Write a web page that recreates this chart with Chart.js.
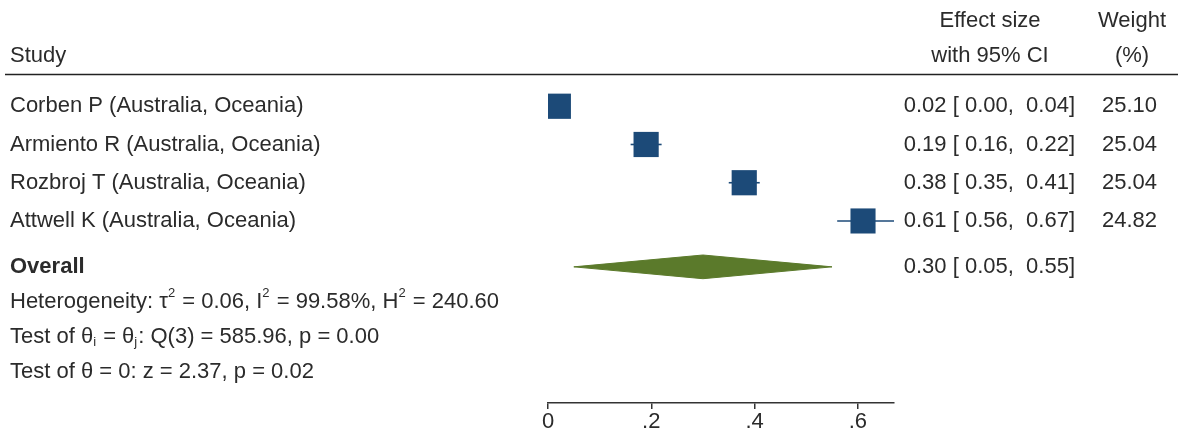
<!DOCTYPE html>
<html>
<head>
<meta charset="utf-8">
<script src="https://cdn.jsdelivr.net/npm/chart.js@4.4.1/dist/chart.umd.min.js"></script>
<style>
  html, body { margin: 0; padding: 0; background: #fff; }
  #wrap { width: 1178px; height: 434px; position: relative; }
</style>
</head>
<body>
<div id="wrap"><canvas id="myChart" width="1178" height="434"></canvas></div>
<script>
// study data
const studies = ['Corben P (Australia, Oceania)', 'Armiento R (Australia, Oceania)', 'Rozbroj T (Australia, Oceania)', 'Attwell K (Australia, Oceania)'];
const effects = [0.02, 0.19, 0.38, 0.61];
const lower = [0.00, 0.16, 0.35, 0.56];
const upper = [0.04, 0.22, 0.41, 0.67];
const weights = [25.10, 25.04, 25.04, 24.82];
const rows = [1, 2, 3, 4];

// overall estimate
const overall = {label: 'Overall', est: 0.30, lo: 0.05, hi: 0.55, row: 5.2};

const xTicks = [0, 0.2, 0.4, 0.6];
const statLines = [
  [['Heterogeneity: τ'], ['2', 'sup'], [' = 0.06, I'], ['2', 'sup'], [' = 99.58%, H'], ['2', 'sup'], [' = 240.60']],
  [['Test of θ'], ['i', 'sub'], [' = θ'], ['j', 'sub'], [': Q(3) = 585.96, p = 0.00']],
  [['Test of θ = 0: z = 2.37, p = 0.02']]
];
const statRows = [6.12, 7.03, 7.95];

const BLUE = '#1c4a78';
const GREEN = '#5b7a2b';
const FONT = '"Liberation Sans", Arial, Helvetica, sans-serif';
const SIZE = 22;
const TEXT = '#2b2b2b';

const fmt = v => v.toFixed(2);

// CI lines, one dataset per study
const ciSets = rows.map((r, i) => ({
  type: 'line',
  data: [{x: lower[i], y: r}, {x: upper[i], y: r}],
  borderColor: BLUE,
  borderWidth: 1.6,
  pointRadius: 0,
  order: 3
}));

const boxes = {
  type: 'scatter',
  data: rows.map((r, i) => ({x: effects[i], y: r})),
  pointStyle: 'rect',
  pointRadius: weights.map(w => 17.8 * Math.sqrt(w / 25)),
  backgroundColor: BLUE,
  borderColor: BLUE,
  borderWidth: 0,
  order: 1
};

const dh = 0.31; // diamond half height in row units
const diamondTop = {
  type: 'line',
  data: [{x: overall.lo, y: overall.row}, {x: overall.est, y: overall.row - dh}, {x: overall.hi, y: overall.row}],
  borderColor: GREEN, borderWidth: 1, pointRadius: 0, tension: 0,
  backgroundColor: GREEN,
  fill: '+1',
  order: 2
};
const diamondBottom = {
  type: 'line',
  data: [{x: overall.lo, y: overall.row}, {x: overall.est, y: overall.row + dh}, {x: overall.hi, y: overall.row}],
  borderColor: GREEN, borderWidth: 1, pointRadius: 0, tension: 0,
  fill: false,
  order: 2
};

function richText(ctx, parts, x, y) {
  let cx = x;
  parts.forEach(([t, kind]) => {
    let dy = 0;
    if (kind === 'sup') { ctx.font = '13px ' + FONT; dy = -9; }
    else if (kind === 'sub') { ctx.font = '13px ' + FONT; dy = 6; }
    else ctx.font = SIZE + 'px ' + FONT;
    ctx.fillText(t, cx, y + dy);
    cx += ctx.measureText(t).width + (kind ? 1 : 0);
  });
}

const tablePlugin = {
  id: 'table',
  afterDraw(chart) {
    const ctx = chart.ctx;
    const ys = chart.scales.y;
    ctx.save();
    ctx.fillStyle = TEXT;
    ctx.textBaseline = 'middle';

    // header
    ctx.font = SIZE + 'px ' + FONT;
    ctx.textAlign = 'left';
    ctx.fillText('Study', 10, 56);
    ctx.textAlign = 'center';
    ctx.fillText('Effect size', 990, 21);
    ctx.fillText('with 95% CI', 990, 56);
    ctx.fillText('Weight', 1132, 21);
    ctx.fillText('(%)', 1132, 56);
    ctx.strokeStyle = '#222';
    ctx.lineWidth = 1.6;
    ctx.beginPath();
    ctx.moveTo(5, 74.5);
    ctx.lineTo(1178, 74.5);
    ctx.stroke();

    // study rows
    rows.forEach((r, i) => {
      const y = ys.getPixelForValue(r);
      ctx.textAlign = 'left';
      ctx.fillText(studies[i], 10, y);
      ctx.textAlign = 'right';
      ctx.fillText(fmt(effects[i]) + ' [ ' + fmt(lower[i]) + ',  ' + fmt(upper[i]) + ']', 1075, y);
      ctx.fillText(fmt(weights[i]), 1157, y);
    });

    // overall
    const oy = ys.getPixelForValue(overall.row);
    ctx.textAlign = 'left';
    ctx.font = 'bold ' + SIZE + 'px ' + FONT;
    ctx.fillText(overall.label, 10, oy);
    ctx.font = SIZE + 'px ' + FONT;
    ctx.textAlign = 'right';
    ctx.fillText(fmt(overall.est) + ' [ ' + fmt(overall.lo) + ',  ' + fmt(overall.hi) + ']', 1075, oy);

    // heterogeneity stats
    ctx.textAlign = 'left';
    statLines.forEach((parts, i) => richText(ctx, parts, 10, ys.getPixelForValue(statRows[i])));
    ctx.restore();
  }
};

const config = {
  type: 'scatter',
  data: {datasets: [...ciSets, diamondTop, diamondBottom, boxes]},
  options: {
    responsive: false,
    animation: false,
    layout: {padding: {left: 548, right: 284, top: 68, bottom: 0}},
    plugins: {legend: {display: false}, tooltip: {enabled: false}},
    scales: {
      x: {
        type: 'linear',
        min: 0,
        max: 0.67,
        afterFit: s => { s.height = 31; },
        afterBuildTicks: s => { s.ticks = xTicks.map(v => ({value: v})); },
        border: {display: true, color: '#333', width: 1.5},
        grid: {drawOnChartArea: false, drawTicks: true, tickLength: 6, color: '#333', lineWidth: 1.5},
        ticks: {
          color: TEXT,
          padding: 0,
          maxRotation: 0,
          font: {family: FONT, size: SIZE},
          callback: v => v === 0 ? '0' : String(v).replace(/^0/, '')
        }
      },
      y: {
        type: 'linear',
        display: false,
        min: 0,
        max: 8.76,
        reverse: true
      }
    }
  },
  plugins: [tablePlugin]
};

var ctx = document.getElementById('myChart').getContext('2d');
var myChart = new Chart(ctx, config);
</script>
</body>
</html>
